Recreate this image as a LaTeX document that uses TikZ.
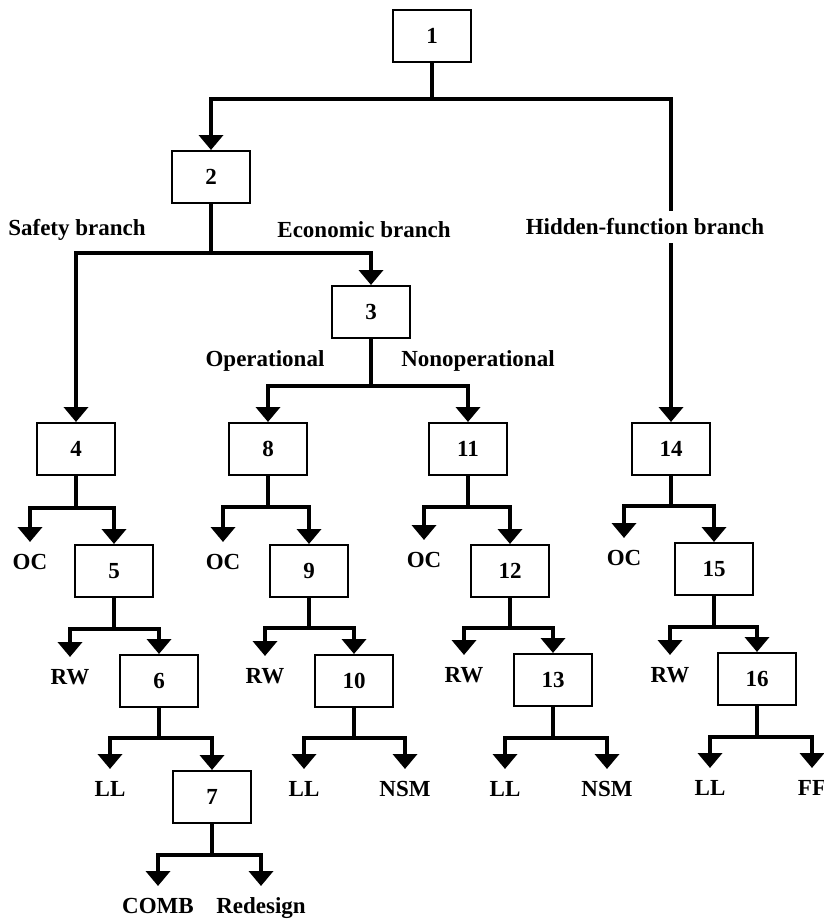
\documentclass[tikz,border=0pt]{standalone}
\usepackage{fontspec}
\setmainfont{Liberation Serif}
\usetikzlibrary{arrows.meta}

\begin{document}
\begin{tikzpicture}[
    x=0.5pt, y=-0.5pt,
    box/.style={draw, line width=1pt, minimum width=39pt, minimum height=26pt, font=\fontsize{11.5}{13}\selectfont\bfseries},
    leaf/.style={font=\fontsize{11.5}{13}\selectfont\bfseries, text height=7.6pt, text depth=0pt, inner sep=6pt},
    branch/.style={font=\fontsize{11.5}{13}\selectfont\bfseries, inner sep=4pt},
    link/.style={line width=2pt, -{Triangle[length=7.5pt, width=12pt]}}
]
    \useasboundingbox (0,0) rectangle (824,921);

    % Boxes
    \node[box] (n1) at (432,36) {1};
    \node[box] (n2) at (211,177) {2};
    \node[box] (n3) at (371,312) {3};

    \node[box] (n4) at (76,449) {4};
    \node[box] (n5) at (114,571) {5};
    \node[box] (n6) at (159,681) {6};
    \node[box] (n7) at (212,797) {7};

    \node[box] (n8) at (268,449) {8};
    \node[box] (n9) at (309,571) {9};
    \node[box] (n10) at (354,681) {10};

    \node[box] (n11) at (468,449) {11};
    \node[box] (n12) at (510,571) {12};
    \node[box] (n13) at (553,680) {13};

    \node[box] (n14) at (671,449) {14};
    \node[box] (n15) at (714,569) {15};
    \node[box] (n16) at (757,679) {16};

    % Leaves
    \node[leaf] (oc4) at (30,562) {OC};
    \node[leaf] (oc8) at (223,562) {OC};
    \node[leaf] (oc11) at (424,560) {OC};
    \node[leaf] (oc14) at (624,558) {OC};

    \node[leaf] (rw5) at (70,677) {RW};
    \node[leaf] (rw9) at (265,676) {RW};
    \node[leaf] (rw12) at (464,675) {RW};
    \node[leaf] (rw15) at (670,675) {RW};

    \node[leaf] (ll6) at (110,789) {LL};
    \node[leaf] (ll10) at (304,789) {LL};
    \node[leaf] (nsm10) at (405,789) {NSM};
    \node[leaf] (ll13) at (505,789) {LL};
    \node[leaf] (nsm13) at (607,789) {NSM};
    \node[leaf] (ll16) at (710,788) {LL};
    \node[leaf] (ff16) at (812,788) {FF};

    \node[leaf] (comb7) at (158,906) {COMB};
    \node[leaf] (redesign7) at (261,906) {Redesign};

    % Junctions
    \coordinate (j1) at (432,99);
    \coordinate (j2) at (211,253);
    \coordinate (j3) at (371,386);
    \coordinate (j4) at (76,508);
    \coordinate (j5) at (114,629);
    \coordinate (j6) at (159,738);
    \coordinate (j7) at (212,855);
    \coordinate (j8) at (268,507);
    \coordinate (j9) at (309,628);
    \coordinate (j10) at (354,738);
    \coordinate (j11) at (468,507);
    \coordinate (j12) at (510,628);
    \coordinate (j13) at (553,738);
    \coordinate (j14) at (671,506);
    \coordinate (j15) at (714,627);
    \coordinate (j16) at (757,737);

    % Edges
    \draw[link] (n1) -- (j1) -| (n2);
    \draw[link] (j1) -| (n14);
    \draw[link] (n2) -- (j2) -| (n4);
    \draw[link] (j2) -| (n3);
    \draw[link] (n3) -- (j3) -| (n8);
    \draw[link] (j3) -| (n11);

    \draw[link] (n4) -- (j4) -| (oc4);
    \draw[link] (j4) -| (n5);
    \draw[link] (n5) -- (j5) -| (rw5);
    \draw[link] (j5) -| (n6);
    \draw[link] (n6) -- (j6) -| (ll6);
    \draw[link] (j6) -| (n7);
    \draw[link] (n7) -- (j7) -| (comb7);
    \draw[link] (j7) -| (redesign7);

    \draw[link] (n8) -- (j8) -| (oc8);
    \draw[link] (j8) -| (n9);
    \draw[link] (n9) -- (j9) -| (rw9);
    \draw[link] (j9) -| (n10);
    \draw[link] (n10) -- (j10) -| (ll10);
    \draw[link] (j10) -| (nsm10);

    \draw[link] (n11) -- (j11) -| (oc11);
    \draw[link] (j11) -| (n12);
    \draw[link] (n12) -- (j12) -| (rw12);
    \draw[link] (j12) -| (n13);
    \draw[link] (n13) -- (j13) -| (ll13);
    \draw[link] (j13) -| (nsm13);

    \draw[link] (n14) -- (j14) -| (oc14);
    \draw[link] (j14) -| (n15);
    \draw[link] (n15) -- (j15) -| (rw15);
    \draw[link] (j15) -| (n16);
    \draw[link] (n16) -- (j16) -| (ll16);
    \draw[link] (j16) -| (ff16);

    % Branch labels
    \node[branch] (safety) at (77,230) {Safety branch};
    \node[branch] (economic) at (364,230) {Economic branch};
    \node[branch, fill=white] (hidden) at (645,227) {Hidden-function branch};
    \node[branch] (oper) at (265,361) {Operational};
    \node[branch] (nonoper) at (478,361) {Nonoperational};
\end{tikzpicture}
\end{document}
